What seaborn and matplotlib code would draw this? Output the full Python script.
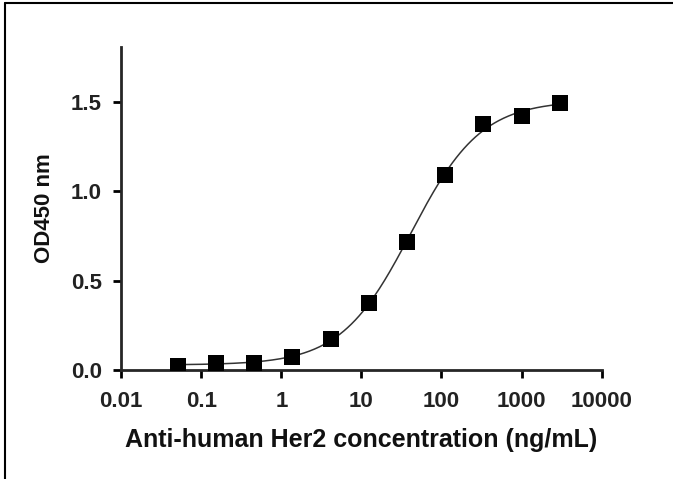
import numpy as np
import pandas as pd
import matplotlib
matplotlib.use("Agg")
import matplotlib.pyplot as plt
from matplotlib.lines import Line2D
import seaborn as sns

# data (3-fold dilution series)
conc = [0.0508, 0.152, 0.457, 1.37, 4.12, 12.3, 37.0, 111.0, 333.0, 1000.0, 3000.0]
od450 = [0.024, 0.038, 0.040, 0.071, 0.172, 0.375, 0.715, 1.090, 1.376, 1.423, 1.494]
x_ticks = [0.01, 0.1, 1, 10, 100, 1000, 10000]
x_tick_labels = ["0.01", "0.1", "1", "10", "100", "1000", "10000"]
y_ticks = [0.0, 0.5, 1.0, 1.5]
y_tick_labels = ["0.0", "0.5", "1.0", "1.5"]

df = pd.DataFrame({"conc": conc, "od": od450})

# 4PL fit: grid over EC50/hill, bottom/top by least squares
lx = np.log10(df["conc"].values)
y = df["od"].values
best = None
for logec in np.linspace(0.5, 2.5, 401):
    for hill in np.linspace(0.5, 2.5, 201):
        g = 1.0 / (1.0 + 10 ** ((logec - lx) * hill))
        A = np.column_stack([np.ones_like(g), g])
        coef, *_ = np.linalg.lstsq(A, y, rcond=None)
        err = np.sum((A @ coef - y) ** 2)
        if best is None or err < best[0]:
            best = (err, logec, hill, coef)
_, logec, hill, (bottom, span) = best
xf = np.logspace(np.log10(conc[0]), np.log10(conc[-1]), 300)
fit = pd.DataFrame({"conc": xf,
                    "od": bottom + span / (1.0 + 10 ** ((logec - np.log10(xf)) * hill))})

sns.set_style("ticks")
plt.rcParams["font.family"] = ["Liberation Sans", "DejaVu Sans"]

fig = plt.figure(figsize=(6.73, 4.79), dpi=100)
ax = fig.add_axes([0.180, 0.228, 0.714, 0.674])

sns.lineplot(data=fit, x="conc", y="od", color="#333333", linewidth=1.1, ax=ax)
sns.scatterplot(data=df, x="conc", y="od", marker="s", s=120, color="black",
                edgecolor="black", linewidth=0, ax=ax, zorder=3)

ax.set_xscale("log")
ax.set_xlim(0.01, 10000)
ax.set_ylim(0, 1.81)
ax.set_xticks(x_ticks)
ax.set_xticklabels(x_tick_labels)
ax.set_yticks(y_ticks)
ax.set_yticklabels(y_tick_labels)
ax.xaxis.set_minor_locator(matplotlib.ticker.NullLocator())

for s in ["top", "right"]:
    ax.spines[s].set_visible(False)
for s in ["left", "bottom"]:
    ax.spines[s].set_linewidth(2.0)
ax.tick_params(axis="both", length=6, width=2.0, labelsize=16, color="black")
ax.tick_params(axis="x", pad=9)
ax.tick_params(axis="y", pad=8)
for lab in ax.get_xticklabels() + ax.get_yticklabels():
    lab.set_fontweight("bold")
    lab.set_color("#222222")

ax.set_xlabel("Anti-human Her2 concentration (ng/mL)", fontsize=18, fontweight="bold",
              labelpad=12, color="#111111")
ax.set_ylabel("OD450 nm", fontsize=16, fontweight="bold", labelpad=11, color="#111111")

# frame lines at left and top edge of the image
fig.add_artist(Line2D([4.5 / 673, 4.5 / 673], [0, 1 - 3 / 479], transform=fig.transFigure,
                      color="black", linewidth=1.5))
fig.add_artist(Line2D([4.5 / 673, 1], [1 - 3 / 479, 1 - 3 / 479], transform=fig.transFigure,
                      color="black", linewidth=1.5))

fig.savefig("out.png", dpi=100)
